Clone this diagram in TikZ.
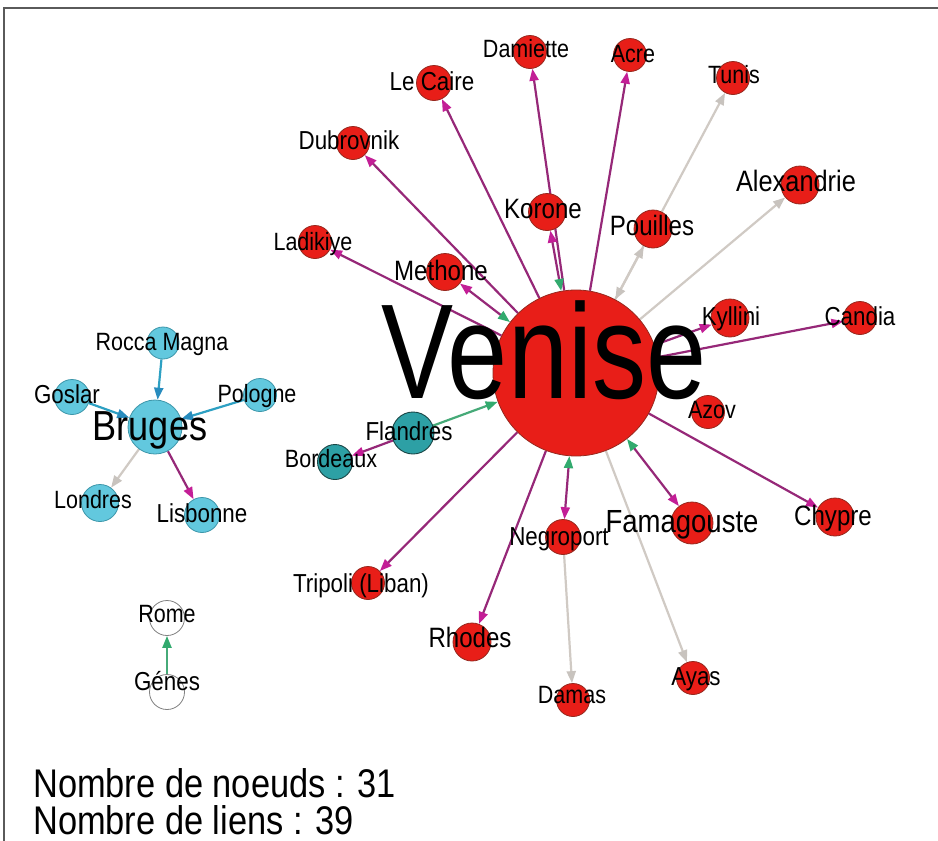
\documentclass[tikz,border=0pt]{standalone}
\usepackage{fontspec}
\setmainfont{Liberation Sans}
\usetikzlibrary{arrows.meta}
\definecolor{redfill}{RGB}{232,30,24}
\definecolor{redline}{RGB}{150,40,30}
\definecolor{cyanfill}{RGB}{98,200,222}
\definecolor{cyanline}{RGB}{60,150,170}
\definecolor{tealfill}{RGB}{45,160,165}
\definecolor{tealline}{RGB}{25,70,70}
\definecolor{pline}{RGB}{150,40,120}
\definecolor{ptip}{RGB}{195,30,150}
\definecolor{gline}{RGB}{70,170,120}
\definecolor{gtip}{RGB}{50,170,110}
\definecolor{grayline}{RGB}{208,202,196}
\definecolor{graytip}{RGB}{200,195,190}
\definecolor{cline}{RGB}{45,160,195}
\definecolor{ctip}{RGB}{40,140,190}
\definecolor{framecol}{RGB}{90,90,90}
\newcommand{\fs}[1]{\fontsize{#1}{#1}\selectfont}
\newcommand{\nx}[1]{\scalebox{0.86}[1]{#1}}
\pgfdeclarelayer{bg}
\pgfdeclarelayer{edges}
\pgfsetlayers{bg,edges,main}
\tikzset{
  rn/.style={circle, fill=redfill, draw=redline, line width=0.8pt, inner sep=0pt, minimum size=#1},
  cn/.style={circle, fill=cyanfill, draw=cyanline, line width=0.8pt, inner sep=0pt, minimum size=#1},
  tn/.style={circle, fill=tealfill, draw=tealline, line width=0.9pt, inner sep=0pt, minimum size=#1},
  wn/.style={circle, fill=white, draw=gray, line width=0.8pt, inner sep=0pt, minimum size=#1},
  lbl/.style={anchor=base, inner sep=0pt, text=black, font=\fs{#1}},
  ptri/.tip={Triangle[length=12pt,width=9pt,color=ptip]},
  gtri/.tip={Triangle[length=12pt,width=9pt,color=gtip]},
  gytri/.tip={Triangle[length=12pt,width=9pt,color=graytip]},
  ctri/.tip={Triangle[length=12pt,width=9pt,color=ctip]},
  pe/.style={draw=pline, line width=2.2pt, -ptri},
  pbe/.style={draw=pline, line width=2.2pt, gtri-ptri},
  ge/.style={draw=gline, line width=2.2pt, -gtri},
  gye/.style={draw=grayline, line width=2.2pt, -gytri},
  gybe/.style={draw=grayline, line width=2.2pt, gytri-gytri},
  ce/.style={draw=cline, line width=2.2pt, -ctri},
}
\begin{document}
\begin{tikzpicture}[x=1pt,y=-1pt]
\useasboundingbox (0,0) rectangle (938,841);
\begin{pgfonlayer}{bg}
\fill[white] (0,0) rectangle (938,841);
\draw[framecol, line width=1.5pt] (4,841) -- (4,8) -- (938,8);
\end{pgfonlayer}

% nodes
\node[rn=166pt] (V) at (576,373) {};
\node[rn=33pt] (dam) at (530,52) {};
\node[rn=33pt] (acre) at (630,55) {};
\node[rn=35pt] (caire) at (434,83) {};
\node[rn=33pt] (dub) at (353,143) {};
\node[rn=37pt] (kor) at (547,212) {};
\node[rn=38pt] (pou) at (653,229) {};
\node[rn=33pt] (lad) at (315,242) {};
\node[rn=37pt] (meth) at (445,272) {};
\node[rn=33pt] (tun) at (733,78) {};
\node[rn=38pt] (alex) at (800,185) {};
\node[rn=38pt] (kyl) at (730,318) {};
\node[rn=33pt] (cand) at (860,318) {};
\node[rn=33pt] (azov) at (708,412) {};
\node[rn=38pt] (chy) at (835,517) {};
\node[rn=42pt] (fam) at (692,523) {};
\node[rn=35pt] (neg) at (563,537) {};
\node[rn=33pt] (ayas) at (693,678) {};
\node[rn=33pt] (damas) at (573,700) {};
\node[rn=38pt] (rho) at (472,642) {};
\node[rn=33pt] (tri) at (368,583) {};
\node[tn=42pt] (fla) at (413,433) {};
\node[tn=35pt] (bor) at (335,462) {};
\node[cn=54pt] (bru) at (155,427) {};
\node[cn=32pt] (roc) at (163,343) {};
\node[cn=35pt] (gos) at (72,397) {};
\node[cn=33pt] (pol) at (260,395) {};
\node[cn=37pt] (lon) at (100,503) {};
\node[cn=35pt] (lis) at (202,515) {};
\node[wn=35pt] (rome) at (167,618) {};
\node[wn=35pt] (genes) at (167,692) {};

% edges
\begin{pgfonlayer}{edges}
\draw[pe] (V) -- (dam);
\draw[pe] (V) -- (acre);
\draw[pe] (V) -- (caire);
\draw[pe] (V) -- (dub);
\draw[pe] (V) -- (lad);
\draw[pbe] (V) -- (meth);
\draw[pbe] (V) -- (kor);
\draw[gye] (V) -- (tun);
\draw[gybe] (V) -- (pou);
\draw[gye] (V) -- (alex);
\draw[pe] (V) -- (kyl);
\draw[pe] (V) -- (cand);
\draw[pe] (V) -- (chy);
\draw[pbe] (V) -- (fam);
\draw[gye] (V) -- (ayas);
\draw[pbe] (V) -- (neg);
\draw[gye] (neg) -- (damas);
\draw[pe] (V) -- (rho);
\draw[pe] (V) -- (tri);
\draw[ge] (fla) -- (V);
\draw[pe] (fla) -- (bor);
\draw[ce] (roc) -- (bru);
\draw[ce] (pol) -- (bru);
\draw[ce] (gos) -- (bru);
\draw[gye] (bru) -- (lon);
\draw[pe] (bru) -- (lis);
\draw[ge] (genes) -- (rome);
\end{pgfonlayer}

% labels
\node[lbl=135] (l-V) at (544,398) {\scalebox{0.8}[1]{Venise}};
\node[lbl=25] (l-dam) at (526,57) {\nx{Damiette}};
\node[lbl=25] (l-acre) at (633,62) {\nx{Acre}};
\node[lbl=26] (l-caire) at (432,90) {\nx{Le Caire}};
\node[lbl=26] (l-dub) at (349,149) {\nx{Dubrovnik}};
\node[lbl=28] (l-kor) at (543,218) {\nx{Korone}};
\node[lbl=28] (l-pou) at (652,235) {\nx{Pouilles}};
\node[lbl=25] (l-lad) at (313,250) {\nx{Ladikiye}};
\node[lbl=28] (l-meth) at (441,280) {\nx{Methone}};
\node[lbl=25] (l-tun) at (734,83) {\nx{Tunis}};
\node[lbl=29.5] (l-alex) at (796,191) {\nx{Alexandrie}};
\node[lbl=26] (l-kyl) at (731,325) {\nx{Kyllini}};
\node[lbl=26] (l-cand) at (860,325) {\nx{Candia}};
\node[lbl=25] (l-azov) at (712,418) {\nx{Azov}};
\node[lbl=28] (l-chy) at (833,525) {\nx{Chypre}};
\node[lbl=32] (l-fam) at (682,532) {\nx{Famagouste}};
\node[lbl=26] (l-neg) at (559,545) {\nx{Negroport}};
\node[lbl=26] (l-ayas) at (696,685) {\nx{Ayas}};
\node[lbl=25] (l-damas) at (572,703) {\nx{Damas}};
\node[lbl=28] (l-rho) at (470,647) {\nx{Rhodes}};
\node[lbl=26] (l-tri) at (361,592) {\nx{Tripoli (Liban)}};
\node[lbl=26] (l-fla) at (409,440) {\nx{Flandres}};
\node[lbl=25] (l-bor) at (331,467) {\nx{Bordeaux}};
\node[lbl=42] (l-bru) at (150,440) {\nx{Bruges}};
\node[lbl=25] (l-roc) at (162,350) {\nx{Rocca Magna}};
\node[lbl=26] (l-gos) at (67,403) {\nx{Goslar}};
\node[lbl=25] (l-pol) at (257,402) {\nx{Pologne}};
\node[lbl=25] (l-lon) at (93,508) {\nx{Londres}};
\node[lbl=26] (l-lis) at (202,522) {\nx{Lisbonne}};
\node[lbl=25] (l-rome) at (167,622) {\nx{Rome}};
\node[lbl=26] (l-genes) at (167,690) {\nx{Génes}};

\node[lbl=40, anchor=base west] (n1) at (33,797) {\nx{Nombre de noeuds : 31}};
\node[lbl=40, anchor=base west] (n2) at (33,834) {\nx{Nombre de liens : 39}};
\end{tikzpicture}
\end{document}
